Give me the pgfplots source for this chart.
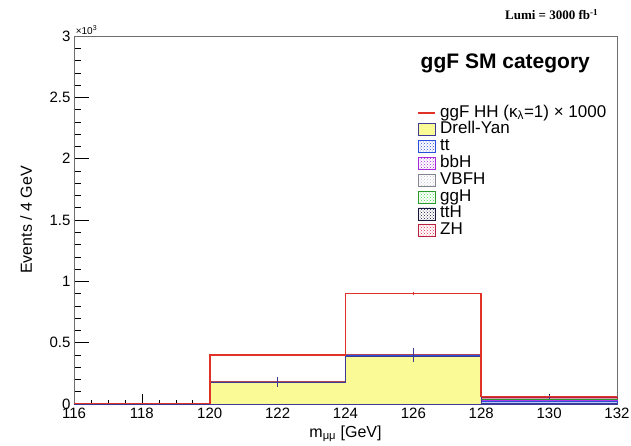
\documentclass[border=0pt]{standalone}
\usepackage{pgfplots}
\pgfplotsset{compat=1.18}
\usepackage{fontspec}
\setmainfont{Liberation Sans}
\newfontfamily\timesfont{Liberation Serif}
\usetikzlibrary{patterns}
\definecolor{dyfill}{RGB}{250,250,150}
\definecolor{dyline}{RGB}{60,60,150}
\definecolor{ttc}{RGB}{40,80,220}
\definecolor{bbhc}{RGB}{170,40,220}
\definecolor{vbfc}{RGB}{190,190,205}
\definecolor{gghc}{RGB}{60,220,60}
\definecolor{tthc}{RGB}{20,20,60}
\definecolor{zhc}{RGB}{230,40,80}
\definecolor{sigred}{RGB}{225,50,40}
\definecolor{framec}{RGB}{110,110,110}
\pgfplotsset{
  boxleg/.style={legend image code/.code={\draw[##1] (0pt,-6pt) rectangle (17pt,6pt);}},
}
\begin{document}
\begin{tikzpicture}
\useasboundingbox (-74pt,-41pt) rectangle (557pt,404pt);
\begin{axis}[
  at={(0,0)}, anchor=south west, scale only axis,
  width=543pt, height=368pt,
  xmin=116, xmax=132, ymin=0, ymax=3,
  clip=false,
  axis line style={framec, line width=0.8pt},
  tick pos=left,
  xtick={116,118,...,132},
  ytick={0,0.5,...,3},
  minor x tick num=3,
  minor y tick num=4,
  xtick style={black, line width=0.6pt, /pgfplots/major tick length=10pt, /pgfplots/minor tick length=4pt},
  ytick style={black, line width=0.6pt, /pgfplots/major tick length=15pt, /pgfplots/minor tick length=7pt},
  tick label style={font=\fontsize{15}{15}\selectfont},
  /pgf/number format/assume math mode=true,
  yticklabel style={/pgf/number format/fixed},
  xlabel={m\textsubscript{μμ} [GeV]},
  ylabel={Events / 4 GeV},
  label style={font=\fontsize{16}{16}\selectfont},
  xlabel style={at={(axis description cs:0.5,0)}, anchor=north, yshift=-18pt},
  ylabel style={at={(axis description cs:-0.088,0.5)}, anchor=center},
  legend style={draw=none, fill=none, at={(0.632,0.814)}, anchor=north west,
    font=\fontsize{17}{17}\selectfont, row sep=0pt, column sep=0pt, inner sep=0pt,
    nodes={text height=12pt, text depth=4pt, inner sep=0.4pt}},
  legend cell align=left,
]
% legend entries
\addlegendimage{color=sigred, line width=1.3pt, line legend}
\addlegendentry{\hspace{4pt}ggF HH (κ\textsubscript{λ}=1) × 1000}
\addlegendimage{draw=dyline, line width=0.8pt, fill=dyfill, boxleg}
\addlegendentry{\hspace{4pt}Drell-Yan}
\addlegendimage{draw=ttc, fill=white, postaction={pattern=crosshatch dots, pattern color=ttc}, boxleg}
\addlegendentry{\hspace{4pt}tt}
\addlegendimage{draw=bbhc, fill=white, postaction={pattern=crosshatch dots, pattern color=bbhc}, boxleg}
\addlegendentry{\hspace{4pt}bbH}
\addlegendimage{draw=vbfc!70!black, fill=white, postaction={pattern=crosshatch dots, pattern color=vbfc}, boxleg}
\addlegendentry{\hspace{4pt}VBFH}
\addlegendimage{draw=gghc!70!black, fill=white, postaction={pattern=crosshatch dots, pattern color=gghc}, boxleg}
\addlegendentry{\hspace{4pt}ggH}
\addlegendimage{draw=tthc, fill=white, postaction={pattern=crosshatch dots, pattern color=tthc}, boxleg}
\addlegendentry{\hspace{4pt}ttH}
\addlegendimage{draw=zhc!80!black, fill=white, postaction={pattern=crosshatch dots, pattern color=zhc}, boxleg}
\addlegendentry{\hspace{4pt}ZH}
% stacked backgrounds (cumulative tops), drawn from top layer down
\addplot[forget plot, const plot mark left, draw=zhc!80!black, line width=0.5pt, fill=zhc!45]
  coordinates {(116,0.003)(120,0.1815)(124,0.402)(128,0.055)(132,0.055)} \closedcycle;
\addplot[forget plot, const plot mark left, draw=tthc, line width=0.4pt, fill=tthc!45]
  coordinates {(116,0.003)(120,0.1805)(124,0.400)(128,0.043)(132,0.043)} \closedcycle;
\addplot[forget plot, const plot mark left, draw=gghc!70!black, line width=0.4pt, fill=gghc!45]
  coordinates {(116,0.003)(120,0.1805)(124,0.400)(128,0.039)(132,0.039)} \closedcycle;
\addplot[forget plot, const plot mark left, draw=vbfc!70!black, line width=0.4pt, fill=vbfc!45]
  coordinates {(116,0.003)(120,0.1785)(124,0.396)(128,0.031)(132,0.031)} \closedcycle;
\addplot[forget plot, const plot mark left, draw=bbhc, line width=0.4pt, fill=bbhc!45]
  coordinates {(116,0.003)(120,0.1775)(124,0.394)(128,0.027)(132,0.027)} \closedcycle;
\addplot[forget plot, const plot mark left, draw=ttc, line width=0.6pt, fill=ttc!30]
  coordinates {(116,0.003)(120,0.177)(124,0.393)(128,0.025)(132,0.025)} \closedcycle;
\addplot[forget plot, const plot mark left, draw=dyline, line width=0.8pt, fill=dyfill]
  coordinates {(116,0.002)(120,0.175)(124,0.39)(128,0.003)(132,0.003)} \closedcycle;
% background uncertainties (vertical bars)
\addplot[forget plot, draw=dyline, line width=0.8pt, mark=none] coordinates {(122,0.14)(122,0.22)};
\addplot[forget plot, draw=dyline, line width=0.8pt, mark=none] coordinates {(126,0.34)(126,0.46)};
\addplot[forget plot, draw=dyline, line width=0.8pt, mark=none] coordinates {(130,0.04)(130,0.072)};
% HH x 1000
\addplot[forget plot, const plot mark left, draw=sigred, line width=1.6pt, mark=none]
  coordinates {(116,0.004)(120,0.40)(124,0.90)(128,0.062)(132,0.062)};
\addplot[forget plot, draw=sigred, line width=0.8pt, mark=none] coordinates {(126,0.89)(126,0.91)};
\node[anchor=base west, font=\fontsize{21}{21}\selectfont\bfseries] at (rel axis cs:0.632,0.913) {ggF SM category};
\node[anchor=base east, font=\fontsize{13}{13}\selectfont\timesfont\bfseries] at (rel axis cs:0.972,1.045) {Lumi = 3000 fb\textsuperscript{-1}};
\node[anchor=south west, font=\fontsize{10}{10}\selectfont, inner sep=0pt] at (rel axis cs:0.003,1.003) {×10\textsuperscript{3}};
\end{axis}
\end{tikzpicture}
\end{document}
